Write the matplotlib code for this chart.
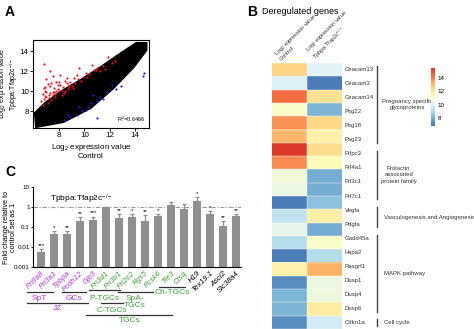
import matplotlib
matplotlib.use("Agg")
import matplotlib.pyplot as plt
import numpy as np
from matplotlib.colors import LinearSegmentedColormap
from matplotlib.transforms import blended_transform_factory

plt.rcParams["font.family"] = ["Liberation Sans", "DejaVu Sans"]
plt.rcParams["mathtext.default"] = "regular"

# ---------------- panel A data (log2 expression) ----------------
cloud_x = [6.2, 8.35, 10.5, 12.3, 13.9, 14.9, 14.9, 14.1, 12.9, 11.3, 9.7, 8.1, 6.9, 6.1]
cloud_y = [6.4, 6.9, 8.3, 10.3, 12.4, 14.1, 14.8, 14.8, 13.8, 12.4, 11.1, 9.9, 8.8, 7.8]
red_x = [6.8, 7.3, 7.0, 7.5, 7.8, 8.1, 8.5, 8.8, 9.2, 9.6, 10.1, 10.6, 11.0, 11.5, 11.9,
         12.2, 6.9, 7.2, 7.6, 8.0, 8.3, 8.7, 9.0, 9.3, 9.7, 6.8, 7.1, 7.4, 7.7, 6.7,
         7.0, 8.4, 9.9, 10.4, 11.2, 7.9, 8.6, 7.3, 6.9, 8.2, 7.5, 8.9, 9.4, 10.8, 6.6,
         6.7, 7.0, 7.3, 7.6, 7.9, 8.2, 8.5, 8.8, 9.1, 7.2, 7.5, 7.8, 8.1, 6.9, 7.4,
         8.0, 8.6, 9.5, 10.2, 10.9, 11.6, 12.4, 6.8, 7.1, 7.7]
red_y = [12.7, 12.0, 11.2, 11.5, 10.9, 11.6, 11.0, 10.6, 11.3, 12.3, 11.8, 12.6, 12.3, 12.5, 13.4,
         12.8, 10.0, 9.6, 10.3, 10.0, 10.4, 10.2, 10.5, 10.8, 11.0, 9.2, 8.8, 9.1, 9.4, 8.6,
         9.9, 9.8, 11.4, 11.7, 12.0, 10.6, 11.3, 10.5, 9.5, 9.6, 9.9, 10.9, 11.6, 12.1, 9.0,
         9.7, 9.4, 9.8, 9.9, 10.2, 10.1, 10.0, 10.4, 10.3, 9.3, 9.6, 10.0, 10.6, 10.4, 10.8,
         10.9, 10.8, 11.2, 11.4, 12.1, 12.2, 13.0, 10.3, 10.7, 9.7]
blue_x = [14.7, 14.6, 12.2, 12.9, 11.8, 11.2, 11.5, 10.7, 10.3, 10.1, 9.8, 9.4, 8.9, 8.4,
          11.0, 12.5, 11.0, 9.6, 10.5, 8.7]
blue_y = [11.8, 11.5, 10.6, 10.5, 9.9, 9.4, 9.2, 9.6, 8.4, 8.1, 8.0, 7.6, 7.4, 7.1,
          7.3, 10.2, 9.0, 8.4, 8.8, 7.6]
r2_text = "R$^2$=0.6466"

# ---------------- panel B data ----------------
heat_control = [12.5, 10.0, 14.4, 11.0, 13.8, 13.1, 15.3, 13.9, 10.7, 10.5,
                7.0, 9.4, 10.3, 9.2, 7.0, 11.6, 7.3, 8.1, 8.1, 7.3]
heat_ko = [10.1, 7.0, 12.2, 8.1, 12.4, 11.6, 12.3, 11.3, 7.9, 7.9,
           8.4, 11.7, 7.9, 11.0, 9.2, 13.2, 10.5, 10.6, 11.8, 9.8]
gene_labels = ["Ceacam13", "Ceacam3", "Ceacam14", "Psg22", "Psg18", "Psg23",
               "Prlpc3", "Prl4a1", "Prl3c1", "Prl7c1", "Vegfa", "Pdgfa",
               "Gadd45a", "Hspa2", "Rasgrf1", "Dusp1", "Dusp4", "Dusp6", "Cdkn1a"]
group_names = ["Pregnancy specific\nglycoproteins", "Prolactin\nassociated\nprotein family",
               "Vasculogenesis and Angiogenesis", "MAPK pathway", "Cell cycle"]
group_first = [0, 6, 10, 12, 18]
group_last = [5, 9, 11, 17, 18]
col_labels = ["Log$_2$ expression value\nControl",
              "Log$_2$ expression value\nTpbpa:Tfap2c$^{-/-}$"]

# ---------------- panel C data ----------------
qpcr_genes = ["Prl8a8", "Prl3a1", "Tpbpa", "Pcdh12", "Gjb3", "Prl3d1", "Prl3b1", "Prl2c2",
              "Rgs5", "Pcsk6", "Tle3", "Ctsq", "H19", "Tex19.1", "Ascl2", "Slc38a4"]
fold_change = [0.0045, 0.045, 0.046, 0.20, 0.22, 0.97, 0.29, 0.32,
               0.21, 0.35, 1.3, 0.8, 2.1, 0.43, 0.115, 0.35]
err_upper = [0.0035, 0.016, 0.015, 0.12, 0.11, 0.03, 0.16, 0.11,
             0.17, 0.10, 0.55, 0.6, 1.1, 0.2, 0.08, 0.1]
signif = ["***", "*", "**", "**", "***", "", "**", "*",
          "**", "*", "", "", "*", "*", "**", "**"]
gene_cell = ["JZ", "JZ", "JZ", "JZ", "JZ", "TGC", "TGC", "TGC",
             "TGC", "TGC", "TGC", "TGC", "other", "other", "other", "other"]
cell_colors = {"JZ": "#b437d6", "TGC": "#3f9f3a", "other": "black"}
# brackets under the gene names: label, x start, x end (bar units), colour key
bracket_names = ["SpT", "GCs", "JZ", "P-TGCs", "SpA-\nTGCs", "Ch-TGCs", "C-TGCs", "TGCs"]
bracket_start = [-1.1, 1.6, -1.1, 3.7, 5.9, 9.1, 4.6, 3.5]
bracket_end = [0.9, 3.5, 3.6, 6.1, 8.6, 11.1, 6.3, 10.1]
bracket_kind = ["JZ", "JZ", "JZ", "TGC", "TGC", "TGC", "TGC", "TGC"]
bracket_line_px = [292, 292, 303, 290, 292, 287, 303, 315]
bracket_text_px = [298, 298, 309, 298, 302, 293, 310, 321]

W, H = 474, 329
fig = plt.figure(figsize=(W / 100, H / 100), dpi=100)


def px_axes(l, t, r, b):
    return fig.add_axes([l / W, 1 - b / H, (r - l) / W, (b - t) / H])


def fig_text(x, y, s, **kw):
    fig.text(x / W, 1 - y / H, s, **kw)


# ---------------- A: scatter ----------------
axA = px_axes(33, 40, 149, 128)
axA.fill(cloud_x, cloud_y, color="black", lw=1.5, ec="black")
axA.scatter(red_x, red_y, s=2.5, color="#e8141c", lw=0)
axA.scatter(blue_x, blue_y, s=2.5, color="#1f1fd6", lw=0)
axA.set_xlim(5.95, 15.1)
axA.set_ylim(6.3, 15.1)
axA.set_xticks([8, 10, 12, 14])
axA.set_yticks([8, 10, 12, 14])
axA.tick_params(labelsize=5.8, length=2, width=0.6, pad=1)
for s in axA.spines.values():
    s.set_linewidth(0.8)
axA.text(0.97, 0.04, r2_text, transform=axA.transAxes, ha="right", va="bottom", fontsize=4)
axA.set_xlabel(col_labels[0], fontsize=5.8, labelpad=2, linespacing=1.1)
axA.set_ylabel(col_labels[1], fontsize=5, linespacing=1.0)
axA.yaxis.set_label_coords(-0.1, 0.5)
fig_text(5, 12, "A", fontsize=10, fontweight="bold", va="center")

# ---------------- B: heatmap ----------------
cmap = LinearSegmentedColormap.from_list(
    "rdylbu9", ["#4575b4", "#74add1", "#abd9e9", "#e0f3f8", "#ffffbf",
                "#fee090", "#fdae61", "#f46d43", "#d73027"])
heat = np.column_stack([heat_control, heat_ko])
n_rows = heat.shape[0]
axB = px_axes(272, 63, 342, 329)
im = axB.imshow(heat, cmap=cmap, vmin=6.8, vmax=15.5, aspect="auto",
                extent=(0, 2, n_rows, 0), interpolation="nearest")
for r in range(n_rows + 1):
    axB.axhline(r, color="white", lw=0.3)
axB.axvline(1, color="white", lw=0.3)
axB.set_xlim(0, 2)
axB.set_ylim(n_rows, 0)
axB.axis("off")

trB = blended_transform_factory(axB.transAxes, axB.transData)
label_y = np.linspace(0.5, n_rows - 0.5, len(gene_labels))
for y, g in zip(label_y, gene_labels):
    axB.text(1.04, y, g, transform=trB, fontsize=4.3, va="center", ha="left", color="#333333")
for name, i0, i1 in zip(group_names, group_first, group_last):
    y0, y1 = label_y[i0] - 0.25, label_y[i1] + 0.25
    axB.plot([1.5, 1.5], [y0, y1], transform=trB, color="#444444", lw=1.0, clip_on=False)
    ym = (y0 + y1) / 2
    if "\n" in name:
        axB.text(1.93 if name.startswith("Preg") else 1.81, ym, name, transform=trB,
                 fontsize=4.3, ha="center", va="center", linespacing=1.3, color="#333333")
    else:
        axB.text(1.6, ym, name, transform=trB, fontsize=4.3, ha="left", va="center",
                 color="#333333")
for x, lab in zip([0.5, 1.5], col_labels):
    axB.text(x / 2 - 0.1, 1.005, lab, transform=axB.transAxes, rotation=45, fontsize=4,
             ha="left", va="bottom", rotation_mode="anchor", linespacing=1.1, color="#333333")

cax = px_axes(431, 68, 435, 126)
cb = fig.colorbar(im, cax=cax, ticks=[8, 10, 12, 14])
cb.outline.set_visible(False)
cb.ax.tick_params(labelsize=4.5, length=0, pad=2)
fig_text(247, 12, "B", fontsize=10, fontweight="bold", va="center")
fig_text(262, 11, "Deregulated genes", fontsize=6.5, va="center")

# ---------------- C: qPCR bars ----------------
axC = px_axes(33, 187, 241, 267)
xpos = np.arange(len(qpcr_genes))
axC.bar(xpos, fold_change, width=0.62, color="#8f8f8f", bottom=0.001)
axC.errorbar(xpos, fold_change, yerr=[np.zeros(len(err_upper)), err_upper], fmt="none",
             ecolor="#8f8f8f", elinewidth=0.9, capsize=1.5, capthick=0.9)
for x, v, e, s in zip(xpos, fold_change, err_upper, signif):
    if s:
        axC.text(x, (v + e) * 1.15, s, ha="center", va="bottom", fontsize=4.5)
axC.set_yscale("log")
axC.set_ylim(0.001, 10)
axC.set_xlim(-0.62, 15.4)
axC.axhline(1, color="#999999", lw=0.8, ls=(0, (4, 1.5, 1, 1.5)), zorder=0)
axC.set_yticks([0.001, 0.01, 0.1, 1, 10])
axC.set_yticklabels(["0.001", "0.01", "0.1", "1", "10"])
axC.yaxis.set_minor_locator(matplotlib.ticker.NullLocator())
axC.tick_params(axis="y", labelsize=4.5, length=1.5, width=0.6, pad=1)
axC.set_xticks(xpos)
axC.set_xticklabels(qpcr_genes, rotation=45, ha="right", va="top",
                    rotation_mode="anchor", fontsize=5.5, style="italic")
axC.tick_params(axis="x", length=0, pad=2)
for lab, kind in zip(axC.get_xticklabels(), gene_cell):
    lab.set_color(cell_colors[kind])
axC.spines["top"].set_visible(False)
axC.spines["right"].set_visible(False)
for s in ("left", "bottom"):
    axC.spines[s].set_linewidth(0.8)
axC.text(0.08, 0.85, "Tpbpa:Tfap2c$^{-/-}$", transform=axC.transAxes, fontsize=6,
         va="center", ha="left")
axC.set_ylabel("Fold change relative to\ncontrol set as 1", fontsize=5.2, linespacing=1.05)
axC.yaxis.set_label_coords(-0.078, 0.5)

trC = blended_transform_factory(axC.transData, axC.transAxes)
for name, x0, x1, kind, lp, tp in zip(bracket_names, bracket_start, bracket_end,
                                      bracket_kind, bracket_line_px, bracket_text_px):
    yl = (267 - lp) / 80
    yt = (267 - tp) / 80
    axC.plot([x0, x1], [yl, yl], transform=trC, color="#333333", lw=0.9, clip_on=False)
    axC.text((x0 + x1) / 2, yt, name, transform=trC, ha="center", va="center",
             fontsize=6, color=cell_colors[kind], linespacing=1.0)
fig_text(5, 172, "C", fontsize=10, fontweight="bold", va="center")

fig.savefig("out.png", dpi=100)
